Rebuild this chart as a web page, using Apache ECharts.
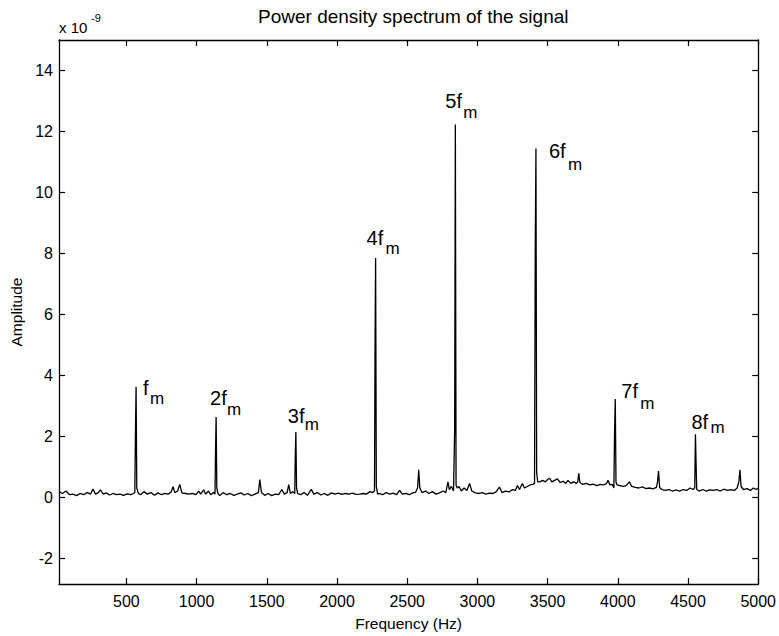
<!DOCTYPE html>
<html>
<head>
<meta charset="utf-8">
<script src="https://cdn.jsdelivr.net/npm/echarts@6/dist/echarts.min.js"></script>
<style>
html,body{margin:0;padding:0;background:#fff;}
#c{width:779px;height:636px;}
</style>
</head>
<body>
<div id="c"></div>
<script>
// ---- data (amplitude in units of 1e-9) ----
const freqHz = [
  20, 45, 70, 95, 120, 145, 170, 195, 220, 245,
  262, 280, 300, 315, 335, 355, 380, 405, 430, 455,
  480, 505, 530, 550, 560, 565, 569, 574, 585, 600,
  625, 650, 675, 700, 725, 750, 775, 800, 820, 832,
  845, 865, 880, 895, 920, 945, 970, 995, 1015, 1030,
  1050, 1065, 1085, 1100, 1120, 1131, 1135, 1139, 1144, 1152,
  1165, 1190, 1215, 1240, 1265, 1290, 1315, 1340, 1365, 1390,
  1415, 1440, 1450, 1462, 1485, 1510, 1535, 1560, 1585, 1607,
  1625, 1645, 1656, 1668, 1685, 1699, 1703, 1707, 1712, 1720,
  1740, 1765, 1790, 1817, 1835, 1860, 1885, 1910, 1935, 1960,
  1985, 2010, 2035, 2060, 2085, 2110, 2135, 2160, 2185, 2210,
  2235, 2255, 2267, 2271, 2275, 2280, 2290, 2300, 2325, 2350,
  2375, 2400, 2425, 2446, 2465, 2490, 2515, 2540, 2560, 2574,
  2582, 2590, 2605, 2630, 2655, 2680, 2705, 2730, 2755, 2775,
  2790, 2800, 2815, 2830, 2838, 2843, 2848, 2857, 2870, 2885,
  2905, 2925, 2944, 2960, 2985, 3010, 3035, 3060, 3085, 3110,
  3135, 3157, 3175, 3200, 3225, 3250, 3270, 3285, 3300, 3320,
  3335, 3355, 3375, 3395, 3407, 3412, 3417, 3422, 3430, 3445,
  3465, 3485, 3500, 3515, 3530, 3550, 3570, 3590, 3610, 3630,
  3645, 3665, 3685, 3705, 3715, 3722, 3730, 3750, 3775, 3800,
  3825, 3850, 3875, 3900, 3920, 3930, 3945, 3960, 3972, 3977,
  3982, 3987, 3995, 4015, 4040, 4060, 4082, 4100, 4125, 4150,
  4175, 4200, 4225, 4250, 4275, 4283, 4290, 4298, 4315, 4340,
  4365, 4390, 4415, 4440, 4465, 4490, 4515, 4535, 4548, 4553,
  4557, 4562, 4580, 4605, 4630, 4655, 4680, 4705, 4730, 4755,
  4780, 4805, 4830, 4850, 4862, 4870, 4878, 4895, 4920, 4945,
  4965, 4985, 5000
];
const amplitude = [
  0.18, 0.12, 0.20, 0.08, 0.10, 0.05, 0.12, 0.08, 0.15, 0.10,
  0.27, 0.10, 0.15, 0.24, 0.10, 0.14, 0.07, 0.12, 0.08, 0.10,
  0.06, 0.11, 0.08, 0.12, 0.15, 2.25, 3.62, 0.30, 0.12, 0.08,
  0.18, 0.10, 0.15, 0.06, 0.14, 0.08, 0.12, 0.10, 0.18, 0.34,
  0.15, 0.20, 0.42, 0.14, 0.12, 0.10, 0.12, 0.08, 0.20, 0.10,
  0.24, 0.10, 0.20, 0.08, 0.15, 0.10, 1.50, 2.63, 0.30, 0.12,
  0.05, 0.15, 0.08, 0.12, 0.06, 0.10, 0.14, 0.07, 0.12, 0.05,
  0.10, 0.15, 0.58, 0.15, 0.06, 0.12, 0.05, 0.10, 0.08, 0.25,
  0.10, 0.15, 0.41, 0.12, 0.18, 0.12, 1.40, 2.14, 0.30, 0.12,
  0.08, 0.15, 0.06, 0.26, 0.10, 0.15, 0.07, 0.12, 0.06, 0.14,
  0.10, 0.13, 0.09, 0.12, 0.10, 0.13, 0.09, 0.10, 0.12, 0.10,
  0.18, 0.15, 0.20, 5.00, 7.85, 0.35, 0.10, 0.12, 0.08, 0.15,
  0.10, 0.13, 0.08, 0.22, 0.10, 0.12, 0.08, 0.14, 0.16, 0.30,
  0.90, 0.30, 0.15, 0.20, 0.12, 0.18, 0.10, 0.14, 0.20, 0.15,
  0.50, 0.25, 0.35, 0.20, 2.20, 12.23, 0.40, 0.30, 0.35, 0.20,
  0.30, 0.22, 0.45, 0.20, 0.14, 0.12, 0.15, 0.10, 0.13, 0.12,
  0.18, 0.33, 0.15, 0.20, 0.17, 0.25, 0.22, 0.38, 0.25, 0.45,
  0.30, 0.35, 0.40, 0.42, 0.45, 8.10, 11.44, 0.80, 0.50, 0.50,
  0.55, 0.50, 0.58, 0.62, 0.50, 0.55, 0.60, 0.48, 0.52, 0.45,
  0.55, 0.45, 0.50, 0.45, 0.50, 0.78, 0.48, 0.42, 0.45, 0.40,
  0.43, 0.38, 0.42, 0.40, 0.45, 0.55, 0.40, 0.42, 0.30, 2.15,
  3.22, 0.50, 0.40, 0.38, 0.35, 0.38, 0.50, 0.35, 0.32, 0.30,
  0.34, 0.28, 0.30, 0.27, 0.32, 0.50, 0.86, 0.32, 0.25, 0.22,
  0.25, 0.20, 0.24, 0.20, 0.25, 0.22, 0.30, 0.25, 0.30, 2.06,
  1.20, 0.25, 0.20, 0.25, 0.20, 0.24, 0.22, 0.25, 0.20, 0.26,
  0.22, 0.25, 0.22, 0.30, 0.50, 0.90, 0.35, 0.25, 0.28, 0.22,
  0.30, 0.25, 0.30
];
const harmonicLabels = ['f', '2f', '3f', '4f', '5f', '6f', '7f', '8f'];
const harmonicFreq = [569, 1139, 1707, 2275, 2843, 3417, 3982, 4553];
const xTicks = [500, 1000, 1500, 2000, 2500, 3000, 3500, 4000, 4500, 5000];
const yTicks = [-2, 0, 2, 4, 6, 8, 10, 12, 14];

// ---- label placement (pixel offsets of glyphs relative to peak top) ----
const mainOffset = [[7, -6], [-6, -26], [-8, -23], [-9, -27], [-10, -30], [13, -4], [6, -15], [-4, -19]];
const subOffset  = [[14, 9], [11, -10], [9, -10], [10, -12], [8, -14], [32, 14], [25, 2], [15, -9]];

const FONT = '"Liberation Sans", Arial, Helvetica, sans-serif';
const data = freqHz.map((f, i) => [f, amplitude[i]]);

const chart = echarts.init(document.getElementById('c'), null, {renderer: 'svg'});
const axisLine = {show: true, onZero: false, lineStyle: {color: '#000', width: 1.3}};
const tick = (vals) => ({show: true, inside: true, length: 6, customValues: vals, lineStyle: {color: '#000', width: 1.2}});

const option = {
  animation: false,
  backgroundColor: '#fff',
  title: {
    text: 'Power density spectrum of the signal',
    left: 253, top: 2,
    textStyle: {fontFamily: FONT, fontSize: 19, fontWeight: 'normal', color: '#000'}
  },
  grid: {left: 59, right: 20, top: 40, bottom: 44, containLabel: false},
  xAxis: [
    {
      type: 'value', min: 20, max: 5000, position: 'bottom',
      axisLine: axisLine, axisTick: tick(xTicks), splitLine: {show: false},
      axisLabel: {customValues: xTicks, formatter: (v) => String(v), margin: 9, fontFamily: FONT, fontSize: 16, color: '#000'},
      name: 'Frequency (Hz)', nameLocation: 'middle', nameGap: 31,
      nameTextStyle: {fontFamily: FONT, fontSize: 15.5, color: '#000'}
    },
    {
      type: 'value', min: 20, max: 5000, position: 'top',
      axisLine: axisLine, axisTick: tick(xTicks), splitLine: {show: false},
      axisLabel: {show: false}
    }
  ],
  yAxis: [
    {
      type: 'value', min: -2.85, max: 15, position: 'left',
      axisLine: axisLine, axisTick: tick(yTicks), splitLine: {show: false},
      axisLabel: {customValues: yTicks, formatter: (v) => String(v), margin: 6, fontFamily: FONT, fontSize: 16, color: '#000'},
      name: 'Amplitude', nameLocation: 'middle', nameRotate: 90, nameGap: 30,
      nameTextStyle: {fontFamily: FONT, fontSize: 15.5, color: '#000'}
    },
    {
      type: 'value', min: -2.85, max: 15, position: 'right',
      axisLine: axisLine, axisTick: tick(yTicks), splitLine: {show: false},
      axisLabel: {show: false}
    }
  ],
  series: [{
    type: 'line', xAxisIndex: 0, yAxisIndex: 0,
    data: data, showSymbol: false, symbol: 'none',
    lineStyle: {color: '#000', width: 1.3}, silent: true
  }]
};
chart.setOption(option);

const graphics = [
  {type: 'text', x: 59, y: 20, style: {text: 'x 10', font: '15px ' + FONT, fill: '#000', verticalAlign: 'top'}},
  {type: 'text', x: 91, y: 12, style: {text: '-9', font: '11px ' + FONT, fill: '#000', verticalAlign: 'top'}}
];
harmonicFreq.forEach((f, i) => {
  const idx = freqHz.indexOf(f);
  const p = chart.convertToPixel({xAxisIndex: 0, yAxisIndex: 0}, [f, amplitude[idx]]);
  graphics.push({
    type: 'text', x: p[0] + mainOffset[i][0], y: p[1] + mainOffset[i][1] - 3,
    style: {text: harmonicLabels[i], font: '20px ' + FONT, fill: '#000', verticalAlign: 'top'}
  });
  graphics.push({
    type: 'text', x: p[0] + subOffset[i][0], y: p[1] + subOffset[i][1] - 6,
    style: {text: 'm', font: '17px ' + FONT, fill: '#000', verticalAlign: 'top'}
  });
});
chart.setOption({graphic: graphics});
</script>
</body>
</html>
